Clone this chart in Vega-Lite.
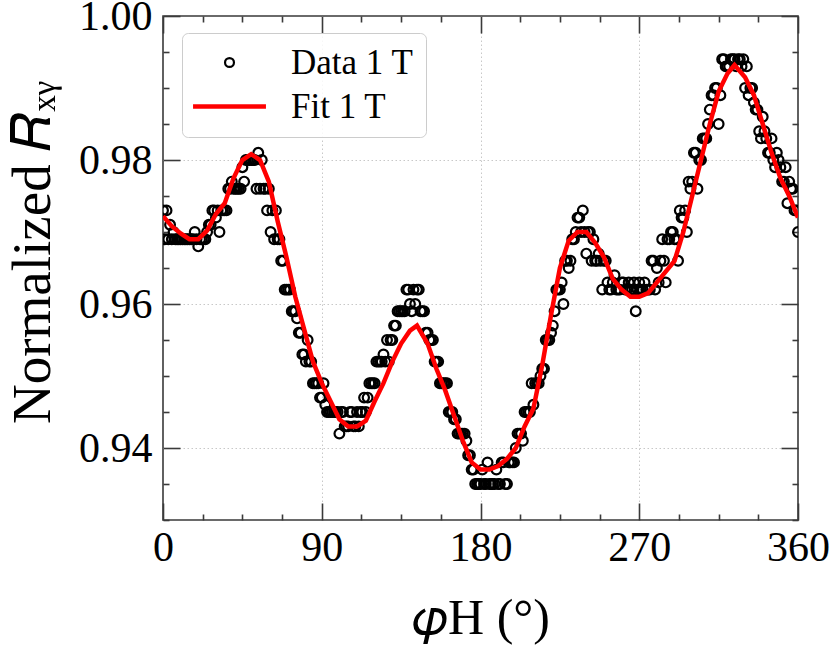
{
  "$schema": "https://vega.github.io/schema/vega-lite/v6.json",
  "width": 635,
  "height": 504,
  "autosize": {"type": "none"},
  "padding": {"left": 163, "top": 16, "right": 32, "bottom": 131},
  "background": "white",
  "config": {
    "view": {"stroke": "#3a3a3a", "strokeWidth": 1.6},
    "font": "Liberation Serif",
    "legend": {
      "orient": "none", "legendX": 19, "legendY": 17,
      "labelFont": "Liberation Serif", "labelFontSize": 35, "labelColor": "black",
      "symbolSize": 900, "symbolOffset": 18, "labelOffset": 44, "rowPadding": 8,
      "padding": 12,
      "fillColor": "rgba(255,255,255,0.85)", "strokeColor": "#cccccc", "cornerRadius": 6
    }
  },
  "datasets": {
    "data": [
      {"phi":0,"R":0.973},{"phi":1,"R":0.969},{"phi":2,"R":0.973},{"phi":3,"R":0.969},{"phi":4,"R":0.971},{"phi":5,"R":0.969},{"phi":6,"R":0.970},{"phi":7,"R":0.969},{"phi":8,"R":0.969},{"phi":9,"R":0.969},
      {"phi":10,"R":0.969},{"phi":11,"R":0.969},{"phi":12,"R":0.969},{"phi":13,"R":0.969},{"phi":14,"R":0.969},{"phi":15,"R":0.969},{"phi":16,"R":0.969},{"phi":17,"R":0.969},{"phi":18,"R":0.970},{"phi":19,"R":0.969},
      {"phi":20,"R":0.968},{"phi":21,"R":0.969},{"phi":22,"R":0.969},{"phi":23,"R":0.969},{"phi":24,"R":0.969},{"phi":25,"R":0.970},{"phi":26,"R":0.971},{"phi":27,"R":0.971},{"phi":28,"R":0.973},{"phi":29,"R":0.973},
      {"phi":30,"R":0.972},{"phi":31,"R":0.973},{"phi":32,"R":0.970},{"phi":33,"R":0.973},{"phi":34,"R":0.973},{"phi":35,"R":0.973},{"phi":36,"R":0.973},{"phi":37,"R":0.976},{"phi":38,"R":0.976},{"phi":39,"R":0.977},
      {"phi":40,"R":0.976},{"phi":41,"R":0.976},{"phi":42,"R":0.976},{"phi":43,"R":0.976},{"phi":44,"R":0.976},{"phi":45,"R":0.979},{"phi":46,"R":0.977},{"phi":47,"R":0.980},{"phi":48,"R":0.980},{"phi":49,"R":0.980},
      {"phi":50,"R":0.980},{"phi":51,"R":0.980},{"phi":52,"R":0.980},{"phi":53,"R":0.976},{"phi":54,"R":0.981},{"phi":55,"R":0.976},{"phi":56,"R":0.980},{"phi":57,"R":0.976},{"phi":58,"R":0.976},{"phi":59,"R":0.973},
      {"phi":60,"R":0.976},{"phi":61,"R":0.970},{"phi":62,"R":0.973},{"phi":63,"R":0.969},{"phi":64,"R":0.973},{"phi":65,"R":0.969},{"phi":66,"R":0.969},{"phi":67,"R":0.966},{"phi":68,"R":0.966},{"phi":69,"R":0.962},
      {"phi":70,"R":0.962},{"phi":71,"R":0.962},{"phi":72,"R":0.962},{"phi":73,"R":0.959},{"phi":74,"R":0.959},{"phi":75,"R":0.959},{"phi":76,"R":0.958},{"phi":77,"R":0.956},{"phi":78,"R":0.956},{"phi":79,"R":0.953},
      {"phi":80,"R":0.953},{"phi":81,"R":0.952},{"phi":82,"R":0.955},{"phi":83,"R":0.952},{"phi":84,"R":0.952},{"phi":85,"R":0.949},{"phi":86,"R":0.949},{"phi":87,"R":0.949},{"phi":88,"R":0.949},{"phi":89,"R":0.947},
      {"phi":90,"R":0.947},{"phi":91,"R":0.949},{"phi":92,"R":0.946},{"phi":93,"R":0.945},{"phi":94,"R":0.945},{"phi":95,"R":0.945},{"phi":96,"R":0.945},{"phi":97,"R":0.945},{"phi":98,"R":0.945},{"phi":99,"R":0.945},
      {"phi":100,"R":0.942},{"phi":101,"R":0.945},{"phi":102,"R":0.945},{"phi":103,"R":0.943},{"phi":104,"R":0.943},{"phi":105,"R":0.943},{"phi":106,"R":0.945},{"phi":107,"R":0.945},{"phi":108,"R":0.943},{"phi":109,"R":0.943},
      {"phi":110,"R":0.945},{"phi":111,"R":0.943},{"phi":112,"R":0.945},{"phi":113,"R":0.945},{"phi":114,"R":0.947},{"phi":115,"R":0.945},{"phi":116,"R":0.947},{"phi":117,"R":0.949},{"phi":118,"R":0.949},{"phi":119,"R":0.949},
      {"phi":120,"R":0.949},{"phi":121,"R":0.952},{"phi":122,"R":0.952},{"phi":123,"R":0.952},{"phi":124,"R":0.952},{"phi":125,"R":0.953},{"phi":126,"R":0.952},{"phi":127,"R":0.955},{"phi":128,"R":0.952},{"phi":129,"R":0.955},
      {"phi":130,"R":0.955},{"phi":131,"R":0.957},{"phi":132,"R":0.957},{"phi":133,"R":0.959},{"phi":134,"R":0.959},{"phi":135,"R":0.959},{"phi":136,"R":0.959},{"phi":137,"R":0.959},{"phi":138,"R":0.962},{"phi":139,"R":0.962},
      {"phi":140,"R":0.960},{"phi":141,"R":0.959},{"phi":142,"R":0.962},{"phi":143,"R":0.960},{"phi":144,"R":0.962},{"phi":145,"R":0.962},{"phi":146,"R":0.959},{"phi":147,"R":0.959},{"phi":148,"R":0.959},{"phi":149,"R":0.956},
      {"phi":150,"R":0.956},{"phi":151,"R":0.955},{"phi":152,"R":0.955},{"phi":153,"R":0.955},{"phi":154,"R":0.952},{"phi":155,"R":0.952},{"phi":156,"R":0.952},{"phi":157,"R":0.949},{"phi":158,"R":0.949},{"phi":159,"R":0.949},
      {"phi":160,"R":0.949},{"phi":161,"R":0.949},{"phi":162,"R":0.945},{"phi":163,"R":0.945},{"phi":164,"R":0.945},{"phi":165,"R":0.944},{"phi":166,"R":0.944},{"phi":167,"R":0.942},{"phi":168,"R":0.942},{"phi":169,"R":0.942},
      {"phi":170,"R":0.942},{"phi":171,"R":0.942},{"phi":172,"R":0.941},{"phi":173,"R":0.939},{"phi":174,"R":0.939},{"phi":175,"R":0.937},{"phi":176,"R":0.937},{"phi":177,"R":0.935},{"phi":178,"R":0.935},{"phi":179,"R":0.935},
      {"phi":180,"R":0.935},{"phi":181,"R":0.937},{"phi":182,"R":0.935},{"phi":183,"R":0.935},{"phi":184,"R":0.938},{"phi":185,"R":0.935},{"phi":186,"R":0.935},{"phi":187,"R":0.935},{"phi":188,"R":0.935},{"phi":189,"R":0.937},
      {"phi":190,"R":0.935},{"phi":191,"R":0.935},{"phi":192,"R":0.938},{"phi":193,"R":0.938},{"phi":194,"R":0.935},{"phi":195,"R":0.935},{"phi":196,"R":0.938},{"phi":197,"R":0.938},{"phi":198,"R":0.938},{"phi":199,"R":0.938},
      {"phi":200,"R":0.940},{"phi":201,"R":0.942},{"phi":202,"R":0.942},{"phi":203,"R":0.942},{"phi":204,"R":0.941},{"phi":205,"R":0.945},{"phi":206,"R":0.945},{"phi":207,"R":0.945},{"phi":208,"R":0.945},{"phi":209,"R":0.949},
      {"phi":210,"R":0.946},{"phi":211,"R":0.949},{"phi":212,"R":0.949},{"phi":213,"R":0.949},{"phi":214,"R":0.950},{"phi":215,"R":0.951},{"phi":216,"R":0.951},{"phi":217,"R":0.955},{"phi":218,"R":0.955},{"phi":219,"R":0.955},
      {"phi":220,"R":0.956},{"phi":221,"R":0.957},{"phi":222,"R":0.959},{"phi":223,"R":0.962},{"phi":224,"R":0.962},{"phi":225,"R":0.962},{"phi":226,"R":0.963},{"phi":227,"R":0.960},{"phi":228,"R":0.966},{"phi":229,"R":0.966},
      {"phi":230,"R":0.965},{"phi":231,"R":0.966},{"phi":232,"R":0.969},{"phi":233,"R":0.969},{"phi":234,"R":0.970},{"phi":235,"R":0.972},{"phi":236,"R":0.972},{"phi":237,"R":0.970},{"phi":238,"R":0.973},{"phi":239,"R":0.970},
      {"phi":240,"R":0.967},{"phi":241,"R":0.970},{"phi":242,"R":0.970},{"phi":243,"R":0.966},{"phi":244,"R":0.969},{"phi":245,"R":0.966},{"phi":246,"R":0.966},{"phi":247,"R":0.967},{"phi":248,"R":0.966},{"phi":249,"R":0.962},
      {"phi":250,"R":0.966},{"phi":251,"R":0.966},{"phi":252,"R":0.963},{"phi":253,"R":0.962},{"phi":254,"R":0.962},{"phi":255,"R":0.963},{"phi":256,"R":0.964},{"phi":257,"R":0.962},{"phi":258,"R":0.962},{"phi":259,"R":0.962},
      {"phi":260,"R":0.963},{"phi":261,"R":0.963},{"phi":262,"R":0.962},{"phi":263,"R":0.962},{"phi":264,"R":0.963},{"phi":265,"R":0.962},{"phi":266,"R":0.962},{"phi":267,"R":0.963},{"phi":268,"R":0.959},{"phi":269,"R":0.962},
      {"phi":270,"R":0.963},{"phi":271,"R":0.962},{"phi":272,"R":0.962},{"phi":273,"R":0.963},{"phi":274,"R":0.962},{"phi":275,"R":0.962},{"phi":276,"R":0.962},{"phi":277,"R":0.966},{"phi":278,"R":0.966},{"phi":279,"R":0.962},
      {"phi":280,"R":0.965},{"phi":281,"R":0.963},{"phi":282,"R":0.966},{"phi":283,"R":0.969},{"phi":284,"R":0.966},{"phi":285,"R":0.963},{"phi":286,"R":0.969},{"phi":287,"R":0.969},{"phi":288,"R":0.970},{"phi":289,"R":0.970},
      {"phi":290,"R":0.969},{"phi":291,"R":0.969},{"phi":292,"R":0.966},{"phi":293,"R":0.973},{"phi":294,"R":0.972},{"phi":295,"R":0.972},{"phi":296,"R":0.973},{"phi":297,"R":0.970},{"phi":298,"R":0.977},{"phi":299,"R":0.976},
      {"phi":300,"R":0.977},{"phi":301,"R":0.981},{"phi":302,"R":0.981},{"phi":303,"R":0.976},{"phi":304,"R":0.980},{"phi":305,"R":0.980},{"phi":306,"R":0.983},{"phi":307,"R":0.983},{"phi":308,"R":0.983},{"phi":309,"R":0.985},
      {"phi":310,"R":0.987},{"phi":311,"R":0.989},{"phi":312,"R":0.989},{"phi":313,"R":0.990},{"phi":314,"R":0.990},{"phi":315,"R":0.985},{"phi":316,"R":0.989},{"phi":317,"R":0.994},{"phi":318,"R":0.994},{"phi":319,"R":0.993},
      {"phi":320,"R":0.993},{"phi":321,"R":0.993},{"phi":322,"R":0.994},{"phi":323,"R":0.994},{"phi":324,"R":0.994},{"phi":325,"R":0.993},{"phi":326,"R":0.994},{"phi":327,"R":0.994},{"phi":328,"R":0.993},{"phi":329,"R":0.994},
      {"phi":330,"R":0.990},{"phi":331,"R":0.993},{"phi":332,"R":0.989},{"phi":333,"R":0.990},{"phi":334,"R":0.990},{"phi":335,"R":0.988},{"phi":336,"R":0.987},{"phi":337,"R":0.987},{"phi":338,"R":0.984},{"phi":339,"R":0.983},
      {"phi":340,"R":0.986},{"phi":341,"R":0.984},{"phi":342,"R":0.983},{"phi":343,"R":0.981},{"phi":344,"R":0.981},{"phi":345,"R":0.983},{"phi":346,"R":0.980},{"phi":347,"R":0.979},{"phi":348,"R":0.981},{"phi":349,"R":0.980},
      {"phi":350,"R":0.979},{"phi":351,"R":0.977},{"phi":352,"R":0.977},{"phi":353,"R":0.979},{"phi":354,"R":0.974},{"phi":355,"R":0.977},{"phi":356,"R":0.976},{"phi":357,"R":0.976},{"phi":358,"R":0.973},{"phi":359,"R":0.973},
      {"phi":360,"R":0.970}
    ],
    "fit": [
      {"phi":0,"R":0.9722},{"phi":5,"R":0.9708},{"phi":10,"R":0.9698},{"phi":15,"R":0.969},{"phi":20,"R":0.969},{"phi":25,"R":0.9702},{"phi":30,"R":0.9725},{"phi":35,"R":0.974},{"phi":40,"R":0.9775},{"phi":45,"R":0.980},
      {"phi":50,"R":0.9808},{"phi":55,"R":0.980},{"phi":60,"R":0.977},{"phi":65,"R":0.9715},{"phi":70,"R":0.9665},{"phi":75,"R":0.961},{"phi":80,"R":0.9565},{"phi":85,"R":0.952},{"phi":90,"R":0.949},{"phi":95,"R":0.9465},
      {"phi":100,"R":0.944},{"phi":105,"R":0.943},{"phi":110,"R":0.943},{"phi":115,"R":0.9438},{"phi":120,"R":0.9465},{"phi":125,"R":0.949},{"phi":130,"R":0.952},{"phi":135,"R":0.9545},{"phi":140,"R":0.9563},{"phi":144,"R":0.957},
      {"phi":150,"R":0.9545},{"phi":155,"R":0.951},{"phi":160,"R":0.948},{"phi":165,"R":0.9445},{"phi":170,"R":0.941},{"phi":175,"R":0.938},{"phi":180,"R":0.937},{"phi":185,"R":0.937},{"phi":190,"R":0.9375},{"phi":195,"R":0.9385},
      {"phi":200,"R":0.940},{"phi":205,"R":0.943},{"phi":210,"R":0.9455},{"phi":215,"R":0.9515},{"phi":220,"R":0.9585},{"phi":225,"R":0.965},{"phi":230,"R":0.9688},{"phi":235,"R":0.970},{"phi":240,"R":0.970},{"phi":245,"R":0.9685},
      {"phi":250,"R":0.9665},{"phi":255,"R":0.9635},{"phi":260,"R":0.962},{"phi":265,"R":0.961},{"phi":270,"R":0.961},{"phi":275,"R":0.9615},{"phi":280,"R":0.963},{"phi":285,"R":0.9645},{"phi":290,"R":0.966},{"phi":295,"R":0.970},
      {"phi":300,"R":0.975},{"phi":305,"R":0.980},{"phi":310,"R":0.985},{"phi":315,"R":0.9895},{"phi":320,"R":0.992},{"phi":324,"R":0.9932},{"phi":330,"R":0.9915},{"phi":335,"R":0.989},{"phi":340,"R":0.985},{"phi":345,"R":0.981},
      {"phi":350,"R":0.9775},{"phi":355,"R":0.975},{"phi":360,"R":0.972}
    ]
  },
  "resolve": {"axis": {"x": "independent", "y": "independent"}},
  "layer": [
    {
      "data": {"name": "data"},
      "transform": [{"calculate": "'Data 1 T'", "as": "series"}],
      "mark": {"type": "point", "shape": "circle", "filled": false, "size": 95, "strokeWidth": 2.2, "opacity": 1, "clip": true},
      "encoding": {
        "x": {
          "field": "phi", "type": "quantitative",
          "scale": {"domain": [0, 360], "nice": false, "zero": false},
          "axis": {
            "orient": "bottom",
            "values": [0, 22.5, 45, 67.5, 90, 112.5, 135, 157.5, 180, 202.5, 225, 247.5, 270, 292.5, 315, 337.5, 360],
            "labelExpr": "datum.value % 90 == 0 ? format(datum.value, 'd') : ''",
            "domain": false,
            "ticks": true,
            "tickSize": {"condition": {"test": "datum.value % 90 == 0", "value": -17}, "value": -6},
            "tickColor": "#3a3a3a", "tickWidth": 1.6,
            "grid": true,
            "gridColor": "#c8c8c8", "gridDash": [1.5, 2.5], "gridWidth": 1,
            "gridOpacity": {"condition": {"test": "datum.value % 90 == 0 && datum.value > 0 && datum.value < 360", "value": 1}, "value": 0},
            "labelFont": "Liberation Serif", "labelFontSize": 42, "labelColor": "black", "labelPadding": 24,
            "labelFlush": false, "labelOverlap": false,
            "title": "𝜑H (°)",
            "titleFont": "Liberation Serif", "titleFontSize": 50, "titleFontWeight": "normal", "titleColor": "black", "titlePadding": 14
          }
        },
        "y": {
          "field": "R", "type": "quantitative",
          "scale": {"domain": [0.93, 1.0], "nice": false, "zero": false},
          "axis": {
            "orient": "left",
            "values": [0.93, 0.935, 0.94, 0.945, 0.95, 0.955, 0.96, 0.965, 0.97, 0.975, 0.98, 0.985, 0.99, 0.995, 1.0],
            "labelExpr": "abs(datum.value*50 - round(datum.value*50)) < 0.000001 ? format(datum.value, '.2f') : ''",
            "domain": false,
            "tickSize": {"condition": {"test": "abs(datum.value*50 - round(datum.value*50)) < 0.000001", "value": -17}, "value": -6},
            "tickColor": "#3a3a3a", "tickWidth": 1.6,
            "grid": true,
            "gridColor": "#c8c8c8", "gridDash": [1.5, 2.5], "gridWidth": 1,
            "gridOpacity": {"condition": {"test": "abs(datum.value*50 - round(datum.value*50)) < 0.000001 && datum.value < 0.999", "value": 1}, "value": 0},
            "labelFont": "Liberation Serif", "labelFontSize": 42, "labelColor": "black", "labelPadding": 28,
            "labelFlush": false, "labelOverlap": false,
            "title": "Normalized 𝑅ₓᵧ",
            "titleFont": "Liberation Serif", "titleFontSize": 55, "titleFontWeight": "normal", "titleColor": "black", "titlePadding": 17,
            "titleY": 236
          }
        },
        "color": {
          "field": "series", "type": "nominal",
          "scale": {"domain": ["Data 1 T", "Fit 1 T"], "range": ["#000000", "#ff0000"]},
          "legend": {
            "title": null,
            "encode": {
              "symbols": {
                "update": {
                  "shape": {"signal": "datum.value == 'Fit 1 T' ? 'M-2.43,0H2.43' : 'circle'"},
                  "size": {"signal": "datum.value == 'Fit 1 T' ? 900 : 80"},
                  "strokeWidth": {"signal": "datum.value == 'Fit 1 T' ? 4.5 : 2.2"},
                  "fill": {"value": "transparent"},
                  "stroke": {"signal": "datum.value == 'Fit 1 T' ? '#ff0000' : '#000000'"},
                  "opacity": {"value": 1}
                }
              }
            }
          }
        }
      }
    },
    {
      "data": {"name": "fit"},
      "transform": [{"calculate": "'Fit 1 T'", "as": "series"}],
      "mark": {"type": "line", "strokeWidth": 4.5, "clip": true},
      "encoding": {
        "x": {
          "field": "phi", "type": "quantitative",
          "axis": {
            "orient": "top",
            "values": [0, 22.5, 45, 67.5, 90, 112.5, 135, 157.5, 180, 202.5, 225, 247.5, 270, 292.5, 315, 337.5, 360],
            "labels": false, "domain": false, "grid": false, "title": null,
            "tickSize": {"condition": {"test": "datum.value % 90 == 0", "value": -17}, "value": -6},
            "tickColor": "#3a3a3a", "tickWidth": 1.6
          }
        },
        "y": {
          "field": "R", "type": "quantitative",
          "axis": {
            "orient": "right",
            "values": [0.93, 0.935, 0.94, 0.945, 0.95, 0.955, 0.96, 0.965, 0.97, 0.975, 0.98, 0.985, 0.99, 0.995, 1.0],
            "labels": false, "domain": false, "grid": false, "title": null,
            "tickSize": {"condition": {"test": "abs(datum.value*50 - round(datum.value*50)) < 0.000001", "value": -17}, "value": -6},
            "tickColor": "#3a3a3a", "tickWidth": 1.6
          }
        },
        "color": {
          "field": "series", "type": "nominal",
          "legend": {
            "title": null,
            "encode": {
              "symbols": {
                "update": {
                  "shape": {"signal": "datum.value == 'Fit 1 T' ? 'M-2.43,0H2.43' : 'circle'"},
                  "size": {"signal": "datum.value == 'Fit 1 T' ? 900 : 80"},
                  "strokeWidth": {"signal": "datum.value == 'Fit 1 T' ? 4.5 : 2.2"},
                  "fill": {"value": "transparent"},
                  "stroke": {"signal": "datum.value == 'Fit 1 T' ? '#ff0000' : '#000000'"},
                  "opacity": {"value": 1}
                }
              }
            }
          }
        }
      }
    }
  ]
}
